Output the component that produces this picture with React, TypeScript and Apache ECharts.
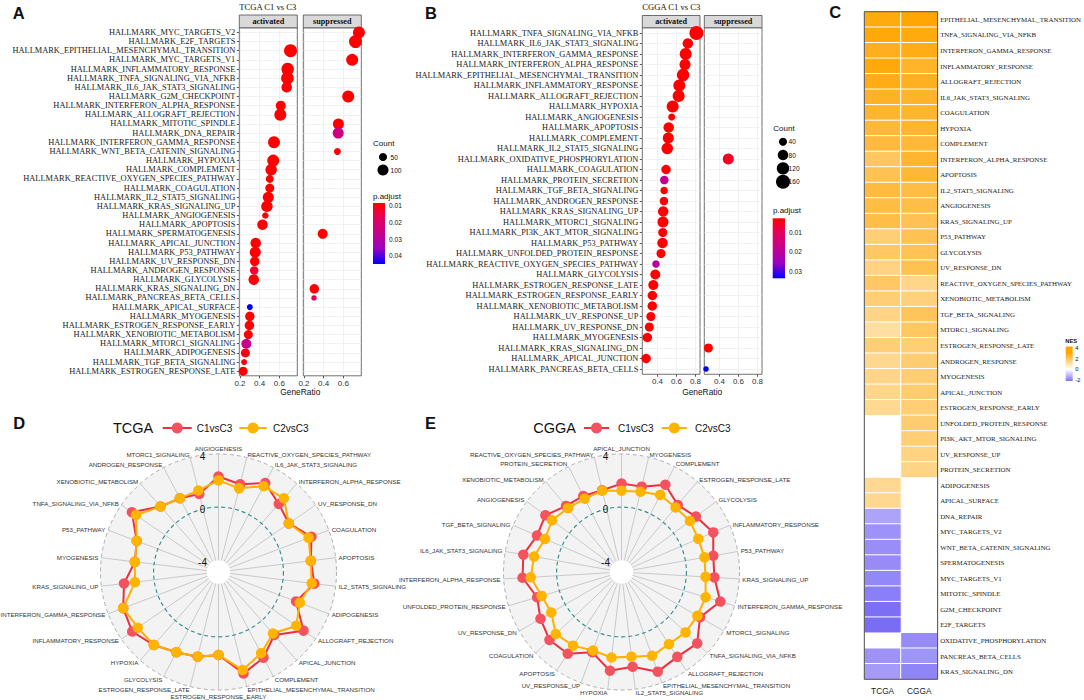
import React, { useEffect, useRef } from "react";
import * as echarts from "echarts";

const SERIF = "'Liberation Serif', 'Times New Roman', serif";
const SANS = "'Liberation Sans', Arial, Helvetica, sans-serif";

// ---------------- Panel A : TCGA C1 vs C3 (GSEA dot plot) ----------------
const aPathways = [
  "HALLMARK_MYC_TARGETS_V2", "HALLMARK_E2F_TARGETS", "HALLMARK_EPITHELIAL_MESENCHYMAL_TRANSITION",
  "HALLMARK_MYC_TARGETS_V1", "HALLMARK_INFLAMMATORY_RESPONSE", "HALLMARK_TNFA_SIGNALING_VIA_NFKB",
  "HALLMARK_IL6_JAK_STAT3_SIGNALING", "HALLMARK_G2M_CHECKPOINT", "HALLMARK_INTERFERON_ALPHA_RESPONSE",
  "HALLMARK_ALLOGRAFT_REJECTION", "HALLMARK_MITOTIC_SPINDLE", "HALLMARK_DNA_REPAIR",
  "HALLMARK_INTERFERON_GAMMA_RESPONSE", "HALLMARK_WNT_BETA_CATENIN_SIGNALING", "HALLMARK_HYPOXIA",
  "HALLMARK_COMPLEMENT", "HALLMARK_REACTIVE_OXYGEN_SPECIES_PATHWAY", "HALLMARK_COAGULATION",
  "HALLMARK_IL2_STAT5_SIGNALING", "HALLMARK_KRAS_SIGNALING_UP", "HALLMARK_ANGIOGENESIS",
  "HALLMARK_APOPTOSIS", "HALLMARK_SPERMATOGENESIS", "HALLMARK_APICAL_JUNCTION",
  "HALLMARK_P53_PATHWAY", "HALLMARK_UV_RESPONSE_DN", "HALLMARK_ANDROGEN_RESPONSE",
  "HALLMARK_GLYCOLYSIS", "HALLMARK_KRAS_SIGNALING_DN", "HALLMARK_PANCREAS_BETA_CELLS",
  "HALLMARK_APICAL_SURFACE", "HALLMARK_MYOGENESIS", "HALLMARK_ESTROGEN_RESPONSE_EARLY",
  "HALLMARK_XENOBIOTIC_METABOLISM", "HALLMARK_MTORC1_SIGNALING", "HALLMARK_ADIPOGENESIS",
  "HALLMARK_TGF_BETA_SIGNALING", "HALLMARK_ESTROGEN_RESPONSE_LATE",
];
const aGroup = [
  "suppressed", "suppressed", "activated", "suppressed", "activated", "activated",
  "activated", "suppressed", "activated", "activated", "suppressed", "suppressed",
  "activated", "suppressed", "activated", "activated", "activated", "activated",
  "activated", "activated", "activated", "activated", "suppressed", "activated",
  "activated", "activated", "activated", "activated", "suppressed", "suppressed",
  "activated", "activated", "activated", "activated", "activated", "activated",
  "activated", "activated",
];
const aGeneRatio = [
  0.759, 0.724, 0.714, 0.69, 0.685, 0.683, 0.675, 0.65, 0.615, 0.61, 0.55, 0.548, 0.546,
  0.54, 0.538, 0.517, 0.503, 0.503, 0.488, 0.474, 0.458, 0.429, 0.39, 0.36, 0.355, 0.35,
  0.345, 0.34, 0.305, 0.302, 0.3, 0.3, 0.296, 0.285, 0.265, 0.255, 0.242, 0.232,
];
const aCount = [
  121, 144, 144, 121, 132, 138, 90, 121, 81, 121, 100, 100, 121, 36, 121, 110, 49, 64, 100,
  110, 30, 90, 81, 90, 100, 72, 56, 90, 72, 20, 25, 72, 72, 64, 81, 64, 25, 64,
];
const aPadj = [
  0.0085, 0.0085, 0.0085, 0.0085, 0.0085, 0.0085, 0.0085, 0.0085, 0.0085, 0.0085, 0.0085,
  0.024, 0.0085, 0.0095, 0.0085, 0.0085, 0.0085, 0.0085, 0.0085, 0.0085, 0.0085, 0.0085,
  0.0085, 0.0085, 0.0085, 0.0085, 0.013, 0.0085, 0.0085, 0.016, 0.0448, 0.0085, 0.0085,
  0.0085, 0.026, 0.0095, 0.011, 0.0085,
];
const aXRange = [0.193, 0.783];
const aPadjRange = [0.0084, 0.0448];
const aCountLegend = [50, 100];
const aPadjLegend = [0.01, 0.02, 0.03, 0.04];

// ---------------- Panel B : CGGA C1 vs C3 ----------------
const bPathways = [
  "HALLMARK_TNFA_SIGNALING_VIA_NFKB", "HALLMARK_IL6_JAK_STAT3_SIGNALING", "HALLMARK_INTERFERON_GAMMA_RESPONSE",
  "HALLMARK_INTERFERON_ALPHA_RESPONSE", "HALLMARK_EPITHELIAL_MESENCHYMAL_TRANSITION", "HALLMARK_INFLAMMATORY_RESPONSE",
  "HALLMARK_ALLOGRAFT_REJECTION", "HALLMARK_HYPOXIA", "HALLMARK_ANGIOGENESIS", "HALLMARK_APOPTOSIS",
  "HALLMARK_COMPLEMENT", "HALLMARK_IL2_STAT5_SIGNALING", "HALLMARK_OXIDATIVE_PHOSPHORYLATION",
  "HALLMARK_COAGULATION", "HALLMARK_PROTEIN_SECRETION", "HALLMARK_TGF_BETA_SIGNALING",
  "HALLMARK_ANDROGEN_RESPONSE", "HALLMARK_KRAS_SIGNALING_UP", "HALLMARK_MTORC1_SIGNALING",
  "HALLMARK_PI3K_AKT_MTOR_SIGNALING", "HALLMARK_P53_PATHWAY", "HALLMARK_UNFOLDED_PROTEIN_RESPONSE",
  "HALLMARK_REACTIVE_OXYGEN_SPECIES_PATHWAY", "HALLMARK_GLYCOLYSIS", "HALLMARK_ESTROGEN_RESPONSE_LATE",
  "HALLMARK_ESTROGEN_RESPONSE_EARLY", "HALLMARK_XENOBIOTIC_METABOLISM", "HALLMARK_UV_RESPONSE_UP",
  "HALLMARK_UV_RESPONSE_DN", "HALLMARK_MYOGENESIS", "HALLMARK_KRAS_SIGNALING_DN",
  "HALLMARK_APICAL_JUNCTION", "HALLMARK_PANCREAS_BETA_CELLS",
];
const bGroup = [
  "activated", "activated", "activated", "activated", "activated", "activated", "activated",
  "activated", "activated", "activated", "activated", "activated", "suppressed", "activated",
  "activated", "activated", "activated", "activated", "activated", "activated", "activated",
  "activated", "activated", "activated", "activated", "activated", "activated", "activated",
  "activated", "activated", "suppressed", "activated", "suppressed",
];
const bGeneRatio = [
  0.81, 0.72, 0.697, 0.69, 0.67, 0.63, 0.623, 0.56, 0.55, 0.518, 0.514, 0.503, 0.493, 0.49,
  0.472, 0.47, 0.468, 0.46, 0.458, 0.455, 0.453, 0.437, 0.384, 0.377, 0.356, 0.346, 0.345,
  0.33, 0.314, 0.293, 0.283, 0.28, 0.258,
];
const bCount = [
  160, 80, 111, 90, 122, 111, 111, 111, 28, 80, 90, 100, 90, 62, 47, 34, 47, 80, 90, 54, 80,
  54, 34, 71, 71, 62, 62, 54, 54, 62, 54, 62, 14,
];
const bPadj = [
  0.0028, 0.0028, 0.0028, 0.0028, 0.0028, 0.0028, 0.0028, 0.0028, 0.0028, 0.0028, 0.0028,
  0.0028, 0.006, 0.0028, 0.019, 0.0028, 0.0035, 0.0028, 0.0028, 0.0028, 0.0028, 0.0028, 0.021,
  0.0028, 0.0028, 0.0028, 0.0028, 0.0028, 0.0028, 0.0028, 0.0028, 0.0028, 0.0336,
];
const bXRange = [0.24, 0.848];
const bPadjRange = [0.0028, 0.0336];
const bCountLegend = [40, 80, 120, 160];
const bPadjLegend = [0.01, 0.02, 0.03];

// ---------------- Panel C : NES heatmap ----------------
const hmColumns = ["TCGA", "CGGA"];
const hmRows = [
  "EPITHELIAL_MESENCHYMAL_TRANSITION", "TNFA_SIGNALING_VIA_NFKB", "INTERFERON_GAMMA_RESPONSE",
  "INFLAMMATORY_RESPONSE", "ALLOGRAFT_REJECTION", "IL6_JAK_STAT3_SIGNALING", "COAGULATION",
  "HYPOXIA", "COMPLEMENT", "INTERFERON_ALPHA_RESPONSE", "APOPTOSIS", "IL2_STAT5_SIGNALING",
  "ANGIOGENESIS", "KRAS_SIGNALING_UP", "P53_PATHWAY", "GLYCOLYSIS", "UV_RESPONSE_DN",
  "REACTIVE_OXYGEN_SPECIES_PATHWAY", "XENOBIOTIC_METABOLISM", "TGF_BETA_SIGNALING",
  "MTORC1_SIGNALING", "ESTROGEN_RESPONSE_LATE", "ANDROGEN_RESPONSE", "MYOGENESIS",
  "APICAL_JUNCTION", "ESTROGEN_RESPONSE_EARLY", "UNFOLDED_PROTEIN_RESPONSE",
  "PI3K_AKT_MTOR_SIGNALING", "UV_RESPONSE_UP", "PROTEIN_SECRETION", "ADIPOGENESIS",
  "APICAL_SURFACE", "DNA_REPAIR", "MYC_TARGETS_V2", "WNT_BETA_CATENIN_SIGNALING",
  "SPERMATOGENESIS", "MYC_TARGETS_V1", "MITOTIC_SPINDLE", "G2M_CHECKPOINT", "E2F_TARGETS",
  "OXIDATIVE_PHOSPHORYLATION", "PANCREAS_BETA_CELLS", "KRAS_SIGNALING_DN",
];
const hmTCGA = [
  2.99, 3.04, 2.79, 3.01, 2.89, 2.68, 2.6, 2.46, 2.4, 1.96, 2.12, 2.38, 2.31, 2.28, 1.7, 1.94,
  1.55, 1.92, 1.7, 1.5, 1.16, 1.68, 1.38, 1.46, 1.45, 1.36, null, null, null, null, 1.36, 1.4,
  -1.45, -1.75, -1.8, -1.85, -1.9, -2.05, -2.3, -2.35, null, -1.75, -1.6,
];
const hmCGGA = [
  3.1, 2.95, 2.88, 2.64, 2.76, 2.62, 2.57, 2.6, 2.47, 2.58, 2.48, 2.3, 2.26, 2.12, 2.13, 2.1,
  2.16, 1.44, 1.61, 2.04, 1.94, 1.7, 1.75, 1.72, 1.77, 1.7, 1.75, 1.7, 1.55, 1.52, null, null,
  null, null, null, null, null, null, null, null, -1.85, -1.7, -1.95,
];
const nesLegendTicks = [4, 2, 0, -2];

// ---------------- Panels D / E : radar (NES) ----------------
const radarGroups = ["C1vsC3", "C2vsC3"];
const radarTicks = [4, 0, -4];
const dIndicators = [
  "ANGIOGENESIS", "REACTIVE_OXYGEN_SPECIES_PATHWAY", "IL6_JAK_STAT3_SIGNALING",
  "INTERFERON_ALPHA_RESPONSE", "UV_RESPONSE_DN", "COAGULATION", "APOPTOSIS",
  "IL2_STAT5_SIGNALING", "ADIPOGENESIS", "ALLOGRAFT_REJECTION", "APICAL_JUNCTION",
  "COMPLEMENT", "EPITHELIAL_MESENCHYMAL_TRANSITION", "ESTROGEN_RESPONSE_EARLY",
  "ESTROGEN_RESPONSE_LATE", "GLYCOLYSIS", "HYPOXIA", "INFLAMMATORY_RESPONSE",
  "INTERFERON_GAMMA_RESPONSE", "KRAS_SIGNALING_UP", "MYOGENESIS", "P53_PATHWAY",
  "TNFA_SIGNALING_VIA_NFKB", "XENOBIOTIC_METABOLISM", "ANDROGEN_RESPONSE", "MTORC1_SIGNALING",
];
const dC1vsC3 = [
  2.31, 1.92, 2.68, 1.96, 1.55, 2.6, 2.12, 2.38, 1.36, 2.89, 1.45, 2.4, 2.99, 1.36, 1.68,
  1.94, 2.46, 3.01, 2.79, 2.28, 1.46, 1.7, 3.04, 1.7, 1.38, 1.16,
];
const dC2vsC3 = [
  2.01, 1.6, 2.41, 2.53, 1.55, 2.37, 2.1, 2.18, 1.66, 2.23, 1.3, 2.02, 2.72, 1.36, 1.68,
  1.94, 2.46, 2.5, 2.79, 1.45, 1.46, 1.7, 2.66, 1.7, 1.38, 1.44,
];
const eIndicators = [
  "APICAL_JUNCTION", "MYOGENESIS", "COMPLEMENT", "ESTROGEN_RESPONSE_LATE", "GLYCOLYSIS",
  "INFLAMMATORY_RESPONSE", "P53_PATHWAY", "KRAS_SIGNALING_UP", "INTERFERON_GAMMA_RESPONSE",
  "MTORC1_SIGNALING", "TNFA_SIGNALING_VIA_NFKB", "ALLOGRAFT_REJECTION",
  "EPITHELIAL_MESENCHYMAL_TRANSITION", "IL2_STAT5_SIGNALING", "HYPOXIA", "UV_RESPONSE_UP",
  "APOPTOSIS", "COAGULATION", "UV_RESPONSE_DN", "UNFOLDED_PROTEIN_RESPONSE",
  "INTERFERON_ALPHA_RESPONSE", "IL6_JAK_STAT3_SIGNALING", "TGF_BETA_SIGNALING", "ANGIOGENESIS",
  "XENOBIOTIC_METABOLISM", "PROTEIN_SECRETION", "REACTIVE_OXYGEN_SPECIES_PATHWAY",
];
const eC1vsC3 = [
  1.77, 1.72, 2.47, 1.7, 2.1, 2.64, 2.13, 2.12, 2.88, 1.94, 2.95, 2.76, 3.1, 2.3, 2.6, 1.55,
  2.48, 2.57, 2.16, 1.75, 2.58, 2.62, 2.04, 2.26, 1.61, 1.52, 1.44,
];
const eC2vsC3 = [
  1.24, 1.32, 1.61, 1.45, 1.54, 1.41, 1.46, 1.45, 1.73, 1.71, 1.74, 1.62, 1.83, 1.53, 1.6,
  1.4, 1.75, 1.92, 1.22, 1.39, 1.96, 1.8, 1.39, 1.64, 1.39, 1.29, 1.4,
];

// ---------------- scales / styles ----------------
const PADJ_COLORS = ["#FF0000", "#E3005F", "#C4008E", "#9A00C2", "#0000FF"];
const NES_COLORS = ["#4C3AF2", "#FFFFFF", "#FFA500"];
const NES_RANGE = [-3.15, 3.15];
const NES_LEGEND_RANGE = [4.38, -2.25];
const RADAR_MIN = -4 - 8 / 9;
const RADAR_MAX = 4;
const RED_LINE = "#EE2F3D";
const RED_DOT = "#F4525F";
const ORG_LINE = "#FFB000";
const ORG_DOT = "#FFB400";

const sizeA = (c: number) => Math.sqrt(c) + 1;
const sizeB = (c: number) => 0.95 * Math.sqrt(c) + 2;
const radarR = (v: number, R: number) => ((v - RADAR_MIN) / (RADAR_MAX - RADAR_MIN)) * R;

// layout
const LA = { actLeft: 239.3, supLeft: 303.3, w: 58, top: 27.8, h: 348, stripTop: 15 };
const LB = { actLeft: 642.3, supLeft: 704.3, w: 57.7, top: 27.75, h: 346.5, stripTop: 15.5 };
const HM = { left: 864.3, top: 11.7, w: 74, h: 667.6 };
const RD = { cx: 218.5, cy: 572, r: 118 };
const RE = { cx: 621.5, cy: 572, r: 118 };

function hexToRgb(h: string) {
  const n = parseInt(h.slice(1), 16);
  return [(n >> 16) & 255, (n >> 8) & 255, n & 255];
}
function rampColor(colors: string[], t: number) {
  const tt = Math.max(0, Math.min(1, t)) * (colors.length - 1);
  const i = Math.min(colors.length - 2, Math.floor(tt));
  const f = tt - i;
  const a = hexToRgb(colors[i]);
  const b = hexToRgb(colors[i + 1]);
  const c = a.map((v, k) => Math.round(v + (b[k] - v) * f));
  return `rgb(${c[0]},${c[1]},${c[2]})`;
}
const nesColor = (v: number) => rampColor(NES_COLORS, (v - NES_RANGE[0]) / (NES_RANGE[1] - NES_RANGE[0]));

const fmtRatio = (v: number) => {
  const t = Math.round(v * 10);
  return Math.abs(v * 10 - t) < 1e-6 && t % 2 === 0 ? (t / 10).toFixed(1) : "";
};

function dotData(names: string[], group: string[], ratio: number[], count: number[], padj: number[], g: string) {
  const out: any[] = [];
  names.forEach((n, i) => {
    if (group[i] === g) out.push([ratio[i], n, count[i], padj[i]]);
  });
  return out;
}

function xAx(gi: number, range: number[], ticks: number[]) {
  return {
    gridIndex: gi,
    type: "value",
    min: range[0],
    max: range[1],
    axisLine: { show: false },
    axisTick: { show: true, length: 2.5, lineStyle: { color: "#333", width: 0.8 }, customValues: ticks },
    axisLabel: { fontSize: 8, fontFamily: SANS, color: "#333", margin: 3.5, formatter: fmtRatio, customValues: ticks },
    splitLine: { show: true, lineStyle: { color: "#EBEBEB", width: 0.7 } },
  };
}
function yAx(gi: number, names: string[], show: boolean) {
  return {
    gridIndex: gi,
    type: "category",
    data: names,
    inverse: true,
    axisLine: { show: false },
    axisTick: { show, alignWithLabel: true, interval: 0, length: 2.5, lineStyle: { color: "#333", width: 0.8 } },
    axisLabel: { show, interval: 0, fontSize: 8.4, fontFamily: SERIF, color: "#1A1A1A", margin: 4 },
    splitLine: { show: true, alignWithLabel: true, interval: 0, lineStyle: { color: "#EBEBEB", width: 0.7 } },
  };
}

function reorderCW<T>(arr: T[]): T[] {
  // ECharts radar places indicators counter-clockwise; reference goes clockwise
  return [arr[0], ...arr.slice(1).reverse()];
}

function radarComps(L: any, names: string[]) {
  const center = [L.cx, L.cy];
  const ind = reorderCW(names).map((n) => ({ name: n, min: RADAR_MIN, max: RADAR_MAX }));
  const blank = names.map(() => ({ name: "", min: 0, max: 1 }));
  return [
    {
      center, radius: L.r, startAngle: 90, shape: "circle", splitNumber: 1, indicator: ind, nameGap: 3,
      axisName: { show: true, color: "#333", fontSize: 6.2, fontFamily: SANS },
      axisLine: { show: true, lineStyle: { color: "#C4C4C4", width: 0.9 } },
      splitLine: { show: true, lineStyle: { color: "#AEAEAE", width: 1, type: [4, 3] } },
      splitArea: { show: true, areaStyle: { color: ["#F3F3F3"] } },
      axisTick: { show: false }, axisLabel: { show: false }, z: 0,
    },
    {
      center, radius: radarR(0, L.r), startAngle: 90, shape: "circle", splitNumber: 1, indicator: blank,
      axisName: { show: false }, axisLine: { show: false },
      splitLine: { show: true, lineStyle: { color: "#2F8C8C", width: 1.1, type: [4, 3] } },
      splitArea: { show: false }, axisTick: { show: false }, axisLabel: { show: false }, z: 1,
    },
    {
      center, radius: radarR(-4, L.r), startAngle: 90, shape: "circle", splitNumber: 1, indicator: blank,
      axisName: { show: false }, axisLine: { show: false }, splitLine: { show: false },
      splitArea: { show: true, areaStyle: { color: ["#FFFFFF"] } },
      axisTick: { show: false }, axisLabel: { show: false }, z: 1,
    },
  ];
}

function radarSeries(radarIndex: number, c1: number[], c2: number[]) {
  return {
    type: "radar",
    radarIndex,
    z: 3,
    symbol: "circle",
    symbolSize: 10.5,
    emphasis: { disabled: true },
    data: [
      { name: radarGroups[0], value: reorderCW(c1), lineStyle: { color: RED_LINE, width: 2 }, itemStyle: { color: RED_DOT } },
      { name: radarGroups[1], value: reorderCW(c2), lineStyle: { color: ORG_LINE, width: 2 }, itemStyle: { color: ORG_DOT } },
    ],
  };
}

function buildOption() {
  const g: any[] = [];
  const T = (x: number, y: number, text: string, o: any = {}) => {
    const align = o.align ?? "left";
    g.push({
      type: "text", x, y, z: 10, silent: true,
      style: {
        text, fill: o.fill ?? "#111", fontSize: o.size ?? 8, fontFamily: o.family ?? SANS,
        fontWeight: o.weight ?? "normal", align, verticalAlign: "middle",
        textAlign: align, textVerticalAlign: "middle",
      },
    });
  };
  const grad = (stops: { offset: number; color: string }[]) => ({
    type: "linear", x: 0, y: 0, x2: 0, y2: 1, colorStops: stops,
  });

  // panel letters
  T(12.7, 12.5, "A", { size: 16.5, weight: "bold" });
  T(425, 12.5, "B", { size: 16.5, weight: "bold" });
  T(829.3, 12.2, "C", { size: 16.5, weight: "bold" });
  T(13.3, 423, "D", { size: 16.5, weight: "bold" });
  T(425, 423.3, "E", { size: 16.5, weight: "bold" });

  // dot-plot titles, strips, axis titles
  T(LA.actLeft, 6.5, "TCGA C1 vs C3", { family: SERIF, size: 8.6 });
  T(LB.actLeft, 6.5, "CGGA C1 vs C3", { family: SERIF, size: 8.6 });
  const strip = (x: number, w: number, top: number, bottom: number, label: string) => {
    g.push({ type: "rect", z: 1, shape: { x, y: top, width: w, height: bottom - top }, style: { fill: "#D9D9D9", stroke: "#4D4D4D", lineWidth: 0.8 } });
    T(x + w / 2, (top + bottom) / 2, label, { family: SERIF, weight: "bold", size: 8.2, align: "center" });
  };
  strip(LA.actLeft, LA.w, LA.stripTop, LA.top, "activated");
  strip(LA.supLeft, LA.w, LA.stripTop, LA.top, "suppressed");
  strip(LB.actLeft, LB.w, LB.stripTop, LB.top, "activated");
  strip(LB.supLeft, LB.w, LB.stripTop, LB.top, "suppressed");
  T((LA.actLeft + LA.supLeft + LA.w) / 2, LA.top + LA.h + 16.5, "GeneRatio", { size: 8.4, align: "center" });
  T((LB.actLeft + LB.supLeft + LB.w) / 2, LB.top + LB.h + 17.5, "GeneRatio", { size: 8.4, align: "center" });

  // legends A
  T(373, 143, "Count", { size: 8 });
  aCountLegend.forEach((c, i) => {
    const y = 157 + i * 13;
    g.push({ type: "circle", z: 10, shape: { cx: 383, cy: y, r: sizeA(c) / 2 }, style: { fill: "#000" } });
    T(390.5, y, String(c), { size: 6.6 });
  });
  T(373, 196.5, "p.adjust", { size: 8 });
  {
    const top = 203, h = 61;
    g.push({ type: "rect", z: 10, shape: { x: 373, y: top, width: 12, height: h }, style: { fill: grad(PADJ_COLORS.map((c, i) => ({ offset: i / (PADJ_COLORS.length - 1), color: c }))) } });
    aPadjLegend.forEach((v) => T(389, top + ((v - aPadjRange[0]) / (aPadjRange[1] - aPadjRange[0])) * h, v.toFixed(2), { size: 6.6 }));
  }
  // legends B
  T(773.3, 128.5, "Count", { size: 8 });
  bCountLegend.forEach((c, i) => {
    const y = 141.7 + i * 13.35;
    g.push({ type: "circle", z: 10, shape: { cx: 783, cy: y, r: sizeB(c) / 2 }, style: { fill: "#000" } });
    T(788.6, y, String(c), { size: 6.6 });
  });
  T(773, 210.7, "p.adjust", { size: 8 });
  {
    const top = 218.3, h = 60;
    g.push({ type: "rect", z: 10, shape: { x: 772.7, y: top, width: 12.3, height: h }, style: { fill: grad(PADJ_COLORS.map((c, i) => ({ offset: i / (PADJ_COLORS.length - 1), color: c }))) } });
    bPadjLegend.forEach((v) => T(789, top + ((v - bPadjRange[0]) / (bPadjRange[1] - bPadjRange[0])) * h, v.toFixed(2), { size: 6.6 }));
  }

  // NES legend
  T(1065.3, 341.3, "NES", { size: 5.8, weight: "bold" });
  {
    const top = 346.5, h = 34.5, span = NES_LEGEND_RANGE[0] - NES_LEGEND_RANGE[1];
    const vals = [NES_LEGEND_RANGE[0], NES_RANGE[1], 0, NES_LEGEND_RANGE[1]];
    g.push({ type: "rect", z: 10, shape: { x: 1065.7, y: top, width: 7, height: h }, style: { fill: grad(vals.map((v) => ({ offset: (NES_LEGEND_RANGE[0] - v) / span, color: nesColor(v) }))) } });
    nesLegendTicks.forEach((v) => T(1075.3, top + ((NES_LEGEND_RANGE[0] - v) / span) * h, String(v), { size: 5.8 }));
  }

  // radar titles / legends / ring labels
  const radarHead = (title: string, x0: number, lines: number[][]) => {
    T(x0, 428, title, { size: 14.5 });
    const cols = [[RED_LINE, RED_DOT], [ORG_LINE, ORG_DOT]];
    lines.forEach((ln, i) => {
      g.push({ type: "line", z: 10, shape: { x1: ln[0], y1: 428, x2: ln[1], y2: 428 }, style: { stroke: cols[i][0], lineWidth: 2 } });
      g.push({ type: "circle", z: 11, shape: { cx: (ln[0] + ln[1]) / 2, cy: 428, r: 5.5 }, style: { fill: cols[i][1] } });
      T(ln[2], 428.5, radarGroups[i], { size: 10 });
    });
  };
  radarHead("TCGA", 113, [[162.7, 191.7, 196.7], [239.3, 266.7, 273]]);
  radarHead("CGGA", 533.3, [[584, 609, 618], [661.7, 686.7, 695]]);
  [RD, RE].forEach((L) => {
    radarTicks.forEach((v) => T(L.cx - 16, L.cy - radarR(v, L.r) + 2.2, String(v), { size: 10, align: "center" }));
  });

  // heatmap data
  const hmData: any[] = [];
  hmRows.forEach((_, i) => {
    if (hmTCGA[i] !== null) hmData.push([0, i, hmTCGA[i]]);
    if (hmCGGA[i] !== null) hmData.push([1, i, hmCGGA[i]]);
  });

  const dotGrid = (left: number, L: any) => ({
    left, top: L.top, width: L.w, height: L.h, show: true, backgroundColor: "#FFFFFF", borderColor: "#4D4D4D", borderWidth: 0.8,
  });

  const scatter = (xi: number, data: any[], sz: (c: number) => number) => ({
    type: "scatter", xAxisIndex: xi, yAxisIndex: xi, data,
    symbolSize: (v: any) => sz(v[2]),
    itemStyle: { opacity: 1 },
    emphasis: { disabled: true },
    clip: false,
    z: 3,
  });

  return {
    animation: false,
    backgroundColor: "#FFFFFF",
    grid: [
      dotGrid(LA.actLeft, LA), dotGrid(LA.supLeft, LA), dotGrid(LB.actLeft, LB), dotGrid(LB.supLeft, LB),
      { left: HM.left, top: HM.top, width: HM.w, height: HM.h, show: true, backgroundColor: "transparent", borderColor: "#4A4A4A", borderWidth: 1, z: 5 },
    ],
    xAxis: [
      xAx(0, aXRange, [0.2, 0.4, 0.6]), xAx(1, aXRange, [0.2, 0.4, 0.6]),
      xAx(2, bXRange, [0.4, 0.6, 0.8]), xAx(3, bXRange, [0.4, 0.6, 0.8]),
      {
        gridIndex: 4, type: "category", data: hmColumns, position: "bottom",
        axisLine: { show: false }, axisTick: { show: false }, splitLine: { show: false },
        axisLabel: { fontSize: 8.3, fontFamily: SANS, color: "#222", margin: 8 },
      },
    ],
    yAxis: [
      yAx(0, aPathways, true), yAx(1, aPathways, false), yAx(2, bPathways, true), yAx(3, bPathways, false),
      {
        gridIndex: 4, type: "category", data: hmRows, inverse: true, position: "right",
        axisLine: { show: false }, axisTick: { show: false }, splitLine: { show: false },
        axisLabel: { interval: 0, fontSize: 6.9, fontFamily: SERIF, color: "#1A1A1A", margin: 2.5 },
      },
    ],
    radar: [...radarComps(RD, dIndicators), ...radarComps(RE, eIndicators)],
    visualMap: [
      { type: "continuous", show: false, seriesIndex: [0, 1], dimension: 3, min: aPadjRange[0], max: aPadjRange[1], inRange: { color: PADJ_COLORS } },
      { type: "continuous", show: false, seriesIndex: [2, 3], dimension: 3, min: bPadjRange[0], max: bPadjRange[1], inRange: { color: PADJ_COLORS } },
      { type: "continuous", show: false, seriesIndex: 4, dimension: 2, min: NES_RANGE[0], max: NES_RANGE[1], inRange: { color: NES_COLORS } },
    ],
    series: [
      scatter(0, dotData(aPathways, aGroup, aGeneRatio, aCount, aPadj, "activated"), sizeA),
      scatter(1, dotData(aPathways, aGroup, aGeneRatio, aCount, aPadj, "suppressed"), sizeA),
      scatter(2, dotData(bPathways, bGroup, bGeneRatio, bCount, bPadj, "activated"), sizeB),
      scatter(3, dotData(bPathways, bGroup, bGeneRatio, bCount, bPadj, "suppressed"), sizeB),
      {
        type: "heatmap", xAxisIndex: 4, yAxisIndex: 4, data: hmData,
        itemStyle: { borderColor: "#FFFFFF", borderWidth: 1 }, emphasis: { disabled: true },
      },
      radarSeries(0, dC1vsC3, dC2vsC3),
      radarSeries(3, eC1vsC3, eC2vsC3),
    ],
    graphic: { elements: g },
  };
}

export default function App() {
  const ref = useRef<HTMLDivElement>(null);
  useEffect(() => {
    if (!ref.current) return;
    const chart = echarts.init(ref.current, undefined, { renderer: "svg" });
    chart.setOption(buildOption() as any);
    return () => chart.dispose();
  }, []);
  return (
    <div
      ref={ref}
      style={{ position: "absolute", left: 0, top: 0, width: 1084, height: 700, background: "#fff" }}
    />
  );
}
